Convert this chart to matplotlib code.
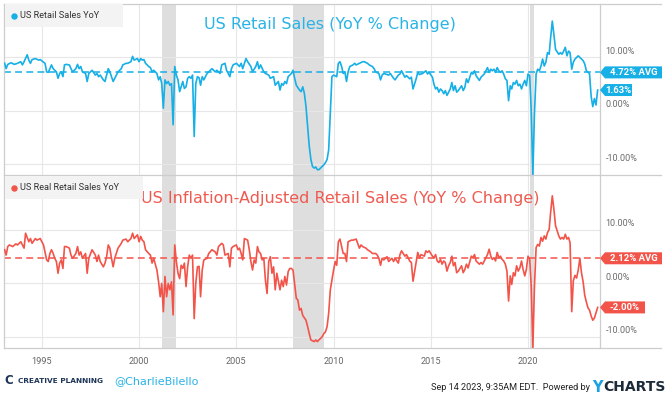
import numpy as np
import pandas as pd
import matplotlib
matplotlib.use("Agg")
import matplotlib.pyplot as plt
import matplotlib.transforms as mtransforms
from matplotlib.patches import Polygon, Rectangle
from matplotlib.lines import Line2D

plt.rcParams["font.family"] = ["Roboto", "DejaVu Sans"]

# ---------------- data (axis units in %) ----------------
rs_dates = """1993-02 1993-03 1993-04 1993-06 1993-08 1993-10 1993-12 1994-01 1994-02 1994-04
1994-05 1994-06 1994-07 1994-09 1994-11 1994-12 1995-02 1995-03 1995-04 1995-05
1995-06 1995-07 1995-08 1995-10 1995-11 1995-12 1996-01 1996-02 1996-03 1996-04
1996-06 1996-07 1996-08 1996-10 1996-11 1996-12 1997-01 1997-02 1997-04 1997-05
1997-06 1997-08 1997-10 1997-11 1997-12 1998-01 1998-03 1998-04 1998-05 1998-06
1998-07 1998-08 1998-09 1998-10 1998-12 1999-02 1999-03 1999-05 1999-06 1999-08
1999-09 1999-10 1999-12 2000-01 2000-02 2000-03 2000-04 2000-05 2000-07 2000-08
2000-09 2000-10 2000-12 2001-01 2001-02 2001-03 2001-04 2001-05 2001-06 2001-07
2001-08 2001-09 2001-10 2001-11 2001-12 2002-01 2002-02 2002-03 2002-04 2002-05
2002-06 2002-07 2002-08 2002-09 2002-10 2002-11 2002-12 2003-01 2003-02 2003-03
2003-04 2003-05 2003-07 2003-08 2003-10 2003-12 2004-01 2004-03 2004-04 2004-06
2004-07 2004-09 2004-10 2004-11 2005-01 2005-02 2005-03 2005-04 2005-05 2005-07
2005-08 2005-10 2005-11 2006-01 2006-02 2006-03 2006-04 2006-06 2006-07 2006-09
2006-10 2006-12 2007-01 2007-03 2007-04 2007-05 2007-06 2007-07 2007-08 2007-09
2007-11 2007-12 2008-01 2008-02 2008-04 2008-05 2008-06 2008-07 2008-08 2008-09
2008-10 2008-11 2008-12 2009-01 2009-02 2009-03 2009-04 2009-05 2009-06 2009-07
2009-08 2009-09 2009-10 2009-11 2009-12 2010-01 2010-03 2010-04 2010-05 2010-06
2010-07 2010-08 2010-09 2010-10 2010-11 2011-01 2011-02 2011-03 2011-05 2011-07
2011-08 2011-10 2011-11 2012-01 2012-02 2012-03 2012-05 2012-06 2012-07 2012-08
2012-11 2012-12 2013-02 2013-03 2013-05 2013-06 2013-07 2013-09 2013-10 2013-12
2014-01 2014-02 2014-04 2014-05 2014-06 2014-08 2014-10 2014-11 2014-12 2015-02
2015-03 2015-04 2015-05 2015-06 2015-07 2015-08 2015-09 2015-10 2015-11 2015-12
2016-01 2016-02 2016-03 2016-04 2016-05 2016-06 2016-08 2016-09 2016-10 2016-11
2016-12 2017-02 2017-03 2017-04 2017-05 2017-07 2017-08 2017-09 2017-10 2017-12
2018-01 2018-02 2018-03 2018-04 2018-05 2018-06 2018-07 2018-08 2018-09 2018-10
2018-11 2018-12 2019-01 2019-02 2019-03 2019-04 2019-05 2019-06 2019-07 2019-08
2019-09 2019-10 2019-11 2019-12 2020-01 2020-02 2020-03 2020-04 2020-05 2020-06
2020-07 2020-08 2020-09 2020-10 2020-11 2020-12 2021-01 2021-02 2021-03 2021-04
2021-05 2021-06 2021-08 2021-09 2021-10 2021-11 2021-12 2022-01 2022-02 2022-03
2022-04 2022-05 2022-06 2022-07 2022-08 2022-09 2022-11 2022-12 2023-01 2023-02
2023-03 2023-04 2023-05 2023-06 2023-07 2023-08""".split()

rs_values = [8.9, 7.9, 8.7, 9.0, 8.7, 8.9, 9.2, 8.6, 9.2, 10.5,
             9.5, 8.9, 9.6, 9.8, 9.5, 9.6, 9.1, 8.9, 7.3, 7.2,
             7.9, 8.6, 7.9, 7.3, 6.1, 7.0, 7.3, 6.4, 8.6, 8.7,
             8.6, 7.9, 7.3, 7.9, 8.7, 7.9, 8.3, 7.3, 7.0, 5.5,
             7.0, 7.6, 6.7, 7.0, 6.4, 6.7, 5.8, 5.5, 6.7, 7.9,
             7.3, 6.4, 5.5, 6.1, 7.3, 7.9, 8.6, 8.9, 8.9, 9.2,
             10.2, 9.5, 9.8, 9.2, 9.8, 9.5, 9.6, 8.9, 8.3, 8.1,
             7.3, 7.6, 7.0, 5.8, 6.4, 5.1, 0.5, 5.8, 5.1, 5.5,
             4.8, 5.1, -2.6, 8.3, 6.7, 5.8, 3.6, 4.5, 5.5, 4.2,
             4.5, 6.1, 6.4, 6.1, 6.7, -4.8, 5.1, 6.4, 6.2, 4.8,
             6.4, 5.8, 7.0, 7.3, 7.9, 7.3, 7.6, 7.0, 8.6, 8.9,
             7.6, 6.4, 7.9, 8.6, 8.9, 8.6, 8.3, 8.9, 7.9, 9.8,
             9.2, 8.3, 7.3, 8.3, 9.2, 7.9, 8.6, 7.3, 7.0, 6.7,
             6.1, 6.4, 4.8, 5.5, 3.9, 5.1, 4.8, 5.5, 5.1, 6.4,
             7.0, 7.6, 6.1, 4.8, 3.9, 3.6, 4.5, 3.3, 0.8, -2.9,
             -6.6, -9.1, -10.4, -10.7, -10.5, -11.0, -11.0, -10.7, -10.4, -10.1,
             -9.7, -9.1, -7.3, -0.4, 6.4, 6.7, 6.4, 8.9, 9.2, 8.3,
             7.0, 7.3, 5.5, 7.3, 8.3, 8.6, 8.9, 8.6, 8.9, 9.2,
             9.2, 8.9, 8.6, 8.3, 7.9, 7.3, 7.0, 5.8, 6.7, 7.0,
             6.7, 7.0, 6.1, 5.8, 6.7, 6.9, 7.5, 6.3, 6.6, 6.0,
             6.3, 4.1, 6.0, 7.2, 6.8, 7.0, 7.5, 6.9, 7.2, 6.3,
             5.0, 4.1, 4.4, 3.5, 4.1, 3.8, 3.2, 3.8, 2.9, 3.5,
             4.1, 5.3, 3.8, 4.7, 3.5, 3.8, 4.7, 3.8, 4.4, 6.0,
             5.3, 7.2, 6.9, 7.5, 6.6, 5.7, 6.3, 6.6, 6.9, 8.1,
             7.2, 7.8, 7.5, 7.8, 7.2, 8.1, 7.5, 7.2, 7.5, 6.9,
             6.0, 5.7, 1.9, 4.7, 4.1, 5.3, 5.0, 5.7, 4.7, 5.0,
             4.1, 5.0, 5.7, 4.7, 6.9, 6.6, 0.1, -12.0, -0.5, 6.9,
             7.8, 7.5, 8.4, 9.7, 8.4, 9.1, 10.9, 10.6, 13.7, 16.8,
             14.3, 11.5, 10.6, 10.9, 10.6, 11.2, 11.9, 10.3, 11.2, 10.9,
             7.8, 9.1, 9.7, 10.0, 10.3, 10.0, 9.4, 8.8, 7.5, 7.2,
             7.0, 2.7, 0.8, 2.3, 1.1, 3.9]

rrs_dates = """1993-02 1993-03 1993-04 1993-05 1993-07 1993-09 1993-10 1993-12 1994-01 1994-02
1994-03 1994-05 1994-06 1994-07 1994-09 1994-10 1994-12 1995-01 1995-02 1995-04
1995-05 1995-06 1995-07 1995-08 1995-09 1995-10 1995-11 1995-12 1996-01 1996-02
1996-03 1996-04 1996-06 1996-07 1996-08 1996-10 1996-11 1996-12 1997-01 1997-02
1997-04 1997-05 1997-06 1997-08 1997-10 1997-11 1997-12 1998-01 1998-03 1998-04
1998-05 1998-06 1998-07 1998-08 1998-09 1998-10 1998-12 1999-02 1999-03 1999-05
1999-06 1999-08 1999-09 1999-10 1999-12 2000-01 2000-02 2000-03 2000-04 2000-05
2000-07 2000-08 2000-09 2000-10 2000-12 2001-01 2001-02 2001-03 2001-04 2001-05
2001-06 2001-07 2001-08 2001-09 2001-10 2001-11 2001-12 2002-01 2002-02 2002-03
2002-04 2002-05 2002-06 2002-07 2002-08 2002-09 2002-10 2002-11 2002-12 2003-01
2003-02 2003-03 2003-04 2003-05 2003-07 2003-08 2003-10 2003-12 2004-01 2004-02
2004-04 2004-05 2004-06 2004-08 2004-09 2004-10 2004-11 2005-01 2005-02 2005-03
2005-04 2005-05 2005-06 2005-08 2005-09 2005-10 2005-11 2005-12 2006-01 2006-02
2006-03 2006-04 2006-05 2006-06 2006-07 2006-08 2006-09 2006-10 2006-11 2006-12
2007-01 2007-02 2007-04 2007-05 2007-06 2007-07 2007-08 2007-09 2007-10 2007-11
2007-12 2008-02 2008-03 2008-04 2008-05 2008-06 2008-08 2008-09 2008-10 2008-11
2009-01 2009-02 2009-03 2009-04 2009-06 2009-07 2009-08 2009-09 2009-10 2009-11
2010-01 2010-02 2010-03 2010-04 2010-05 2010-06 2010-07 2010-08 2010-09 2010-10
2010-12 2011-01 2011-03 2011-05 2011-06 2011-07 2011-09 2011-10 2011-12 2012-01
2012-03 2012-04 2012-05 2012-06 2012-07 2012-08 2012-10 2012-11 2013-01 2013-02
2013-03 2013-05 2013-06 2013-07 2013-09 2013-10 2013-12 2014-01 2014-02 2014-04
2014-05 2014-06 2014-07 2014-09 2014-10 2014-11 2014-12 2015-02 2015-03 2015-04
2015-05 2015-06 2015-07 2015-08 2015-09 2015-10 2015-11 2015-12 2016-01 2016-02
2016-03 2016-04 2016-05 2016-06 2016-08 2016-09 2016-10 2016-11 2016-12 2017-02
2017-03 2017-04 2017-05 2017-07 2017-08 2017-09 2017-10 2017-12 2018-01 2018-02
2018-03 2018-04 2018-05 2018-06 2018-07 2018-08 2018-09 2018-10 2018-11 2018-12
2019-01 2019-02 2019-03 2019-04 2019-05 2019-06 2019-07 2019-08 2019-09 2019-10
2019-11 2019-12 2020-01 2020-02 2020-03 2020-04 2020-05 2020-06 2020-07 2020-08
2020-09 2020-10 2020-11 2020-12 2021-01 2021-02 2021-03 2021-04 2021-05 2021-06
2021-08 2021-09 2021-10 2021-11 2021-12 2022-01 2022-02 2022-03 2022-04 2022-05
2022-06 2022-07 2022-08 2022-09 2022-10 2022-11 2022-12 2023-01 2023-02 2023-03
2023-04 2023-05 2023-06 2023-07 2023-08""".split()

rrs_values = [6.3, 5.3, 6.9, 7.2, 6.9, 7.4, 7.2, 7.8, 7.2, 6.6,
              9.4, 7.8, 8.4, 7.5, 8.4, 8.1, 8.4, 7.8, 7.2, 4.4,
              4.1, 5.6, 6.3, 5.6, 4.7, 4.1, 1.9, 3.8, 4.4, 2.8,
              6.9, 6.9, 6.6, 5.3, 4.7, 5.6, 6.9, 5.3, 5.9, 4.7,
              5.6, 1.9, 4.7, 6.3, 5.3, 4.1, 5.3, 4.1, 3.1, 3.8,
              5.0, 7.2, 6.6, 4.7, 3.1, 4.7, 6.6, 7.5, 8.1, 8.3,
              7.8, 8.4, 9.4, 8.4, 9.1, 7.8, 8.8, 8.1, 7.8, 6.3,
              5.6, 5.3, 3.8, 4.7, 2.5, 0.3, -2.5, 0.0, -5.3, 1.3,
              -2.5, 0.0, -1.2, 0.3, -5.9, 7.2, 4.1, 1.9, 0.9, 3.4,
              2.8, 3.8, -0.6, 3.1, 5.3, 4.7, 5.3, -6.6, 0.0, 3.1,
              3.2, -2.5, 2.5, 4.4, 4.7, 5.6, 6.3, 5.9, 5.3, 6.9,
              7.5, 7.2, 5.3, 5.6, 3.1, 6.6, 6.9, 7.2, 6.3, 6.6,
              5.6, 4.4, 8.4, 8.1, 6.3, 4.1, 2.5, 4.4, 3.8, 6.9,
              5.9, 5.6, 4.4, 4.7, 0.6, -1.9, 4.1, 5.0, 1.9, 3.1,
              -1.2, 1.9, -1.2, 0.6, -0.6, 1.3, -0.3, 2.2, 2.8, 2.8,
              2.5, -2.8, -3.1, -5.0, -4.7, -6.0, -6.9, -8.1, -9.4, -10.6,
              -10.9, -10.6, -10.9, -10.6, -10.0, -9.4, -9.1, -8.1, -5.6, -1.2,
              2.5, 4.1, 3.4, 7.8, 8.3, 6.9, 5.6, 5.6, 4.1, 7.8,
              8.1, 8.1, 8.3, 6.6, 7.2, 6.9, 6.6, 6.3, 5.9, 5.6,
              5.6, 5.3, 4.7, 3.4, 4.7, 4.4, 5.0, 4.1, 4.7, 4.1,
              4.7, 3.8, 5.4, 6.1, 5.1, 5.4, 4.2, 3.9, 0.4, 3.9,
              5.8, 4.8, 5.4, 5.1, 6.1, 5.8, 6.1, 5.1, 4.8, 5.4,
              4.2, 3.9, 4.5, 3.6, 4.2, 3.9, 2.3, 3.3, 3.9, 5.1,
              3.3, 3.9, 2.0, 2.3, 3.3, 2.0, 2.6, 3.6, 2.9, 5.1,
              4.8, 5.4, 4.2, 3.6, 3.9, 3.6, 4.2, 5.4, 6.4, 5.1,
              4.5, 4.8, 4.2, 5.8, 4.8, 5.1, 4.5, 4.2, 3.6, 2.3,
              -3.3, 1.4, -0.2, 2.0, 1.4, 3.3, 2.3, 2.9, 4.2, 2.6,
              1.4, 2.6, 5.1, 4.6, -0.5, -12.1, -0.5, 6.7, 7.3, 7.0,
              8.6, 7.9, 8.9, 8.3, 9.5, 10.1, 13.3, 16.4, 13.9, 10.8,
              8.9, 8.3, 8.6, 8.3, 9.2, 8.3, 8.6, 7.6, -5.3, 0.5,
              1.5, 1.0, 2.5, 4.7, 2.0, 0.3, -2.2, -3.5, -4.6, -5.0,
              -6.1, -6.9, -6.5, -5.5, -4.5]

rs_avg_level = 7.2
rrs_avg_level = 4.7
rs_avg_text = "4.72% AVG"
rrs_avg_text = "2.12% AVG"
rs_last_text = "1.63%"
rrs_last_text = "-2.00%"

recessions = [("2001-03-01", "2001-11-30"),
              ("2007-12-01", "2009-06-30"),
              ("2020-02-01", "2020-04-30")]
year_ticks = [1995, 2000, 2005, 2010, 2015, 2020]
y_ticks = [-10, 0, 10]
y_tick_labels = ["-10.00%", "0.00%", "10.00%"]

# ---------------- style ----------------
BLUE = "#16afe6"
RED = "#f2544a"
BORDER = "#cdcdcd"
GRID = "#e7e7e7"
BAND = "#dedede"

W, H = 670, 397
fig = plt.figure(figsize=(W / 100, H / 100), dpi=100)
fig.patch.set_facecolor("white")


def fx(px):
    return px / W


def fy(py):
    return 1 - py / H


ax1 = fig.add_axes([fx(4), fy(175), fx(600) - fx(4), fy(4) - fy(175)])
ax2 = fig.add_axes([fx(4), fy(348), fx(600) - fx(4), fy(175) - fy(348)])

x_lo = pd.Timestamp("1993-01-20")
x_hi = pd.Timestamp("2023-09-14")

series = [
    (ax1, rs_dates, rs_values, BLUE, (-12.0, 20.0), rs_avg_level),
    (ax2, rrs_dates, rrs_values, RED, (-12.1, 20.3), rrs_avg_level),
]

for ax, d, v, col, ylim, avg in series:
    dates = pd.to_datetime(d)
    ax.set_xlim(x_lo, x_hi)
    ax.set_ylim(*ylim)
    for s, e in recessions:
        ax.axvspan(pd.Timestamp(s), pd.Timestamp(e), color=BAND, lw=0, zorder=0.5)
    ax.set_yticks(y_ticks)
    ax.set_xticks([pd.Timestamp(f"{y}-01-01") for y in year_ticks])
    ax.grid(True, color=GRID, lw=0.8, zorder=0)
    ax.set_axisbelow(True)
    ax.plot(dates, v, color=col, lw=1.2, zorder=3, solid_joinstyle="round")
    ax.axhline(avg, color=col, lw=1.1, ls=(0, (4.5, 2.8)), zorder=2.5)
    for sp in ["top", "bottom"]:
        ax.spines[sp].set_visible(False)
    for sp in ["left", "right"]:
        ax.spines[sp].set_color(BORDER)
        ax.spines[sp].set_linewidth(0.9)
    ax.tick_params(axis="y", left=False, right=False, labelleft=False, labelright=False)
    ax.tick_params(axis="x", bottom=False, labelbottom=False)
    ax.set_facecolor("none")
    ytr = ax.get_yaxis_transform()
    for t, lab in zip(y_ticks, y_tick_labels):
        ax.annotate(lab, xy=(1.0, t), xycoords=ytr, xytext=(4.0, 1.2),
                    textcoords="offset points", ha="left", va="bottom",
                    fontsize=6.5, color="#6b6b6b", annotation_clip=False)

ax2.tick_params(axis="x", bottom=False, labelbottom=True, pad=2.8,
                labelsize=6.6, labelcolor="#666666")
ax2.set_xticklabels([str(y) for y in year_ticks])

# figure border lines extending under the right label column
for py in (4, 175, 348):
    fig.add_artist(Line2D([fx(4), fx(661)], [fy(py), fy(py)], color=BORDER,
                          lw=0.9, transform=fig.transFigure))

# legend boxes
for (x1, y1, y2), label, col in [((123, 4, 27), "US Retail Sales YoY", BLUE),
                                 ((143, 176, 199), "US Real Retail Sales YoY", RED)]:
    fig.add_artist(Rectangle((fx(4.5), fy(y2)), fx(x1) - fx(4.5), fy(y1) - fy(y2),
                             transform=fig.transFigure, facecolor="#f3f3f3",
                             edgecolor="none", zorder=5))
    yc = (y1 + y2) / 2 + 0.5
    fig.add_artist(Line2D([fx(14)], [fy(yc)], marker="o", ms=3.6, color=col,
                          transform=fig.transFigure, zorder=6))
    fig.text(fx(20.5), fy(yc), label, fontsize=6.6, color="#333333",
             va="center", ha="left", zorder=6)

# titles
fig.text(fx(330), fy(24), "US Retail Sales (YoY % Change)", color="#2ab3e6",
         fontsize=11.5, ha="center", va="center", family=["DejaVu Sans"])
fig.text(fx(340), fy(198), "US Inflation-Adjusted Retail Sales (YoY % Change)",
         color="#ef5a50", fontsize=11.5, ha="center", va="center",
         family=["DejaVu Sans"])

# value flags on the right
ident = mtransforms.IdentityTransform()


def flag(ax, yval, text, color, width_px):
    x0 = ax.transAxes.transform((1.0, 0.0))[0]
    yp = ax.transData.transform((0.0, yval))[1]
    h = 12.0
    verts = [(x0, yp), (x0 + 5, yp + h / 2), (x0 + width_px, yp + h / 2),
             (x0 + width_px, yp - h / 2), (x0 + 5, yp - h / 2)]
    fig.add_artist(Polygon(verts, closed=True, transform=ident, facecolor=color,
                           edgecolor="none", zorder=7))
    fig.text(x0 + 5 + (width_px - 5) / 2, yp, text, transform=ident, color="white",
             fontsize=6.8, fontweight="bold", ha="center", va="center", zorder=8)


flag(ax1, rs_avg_level, rs_avg_text, BLUE, 62)
flag(ax1, rs_values[-1], rs_last_text, BLUE, 32)
flag(ax2, rrs_avg_level, rrs_avg_text, RED, 62)
flag(ax2, rrs_values[-1], rrs_last_text, RED, 45)

# footer
fig.text(fx(4.5), fy(381), "C", fontsize=8.5, fontweight="bold", color="#1d3557",
         ha="left", va="center", family=["DejaVu Sans"])
fig.text(fx(18), fy(381), "CREATIVE PLANNING", fontsize=5.3, fontweight="bold",
         color="#1d3557", ha="left", va="center", family=["DejaVu Sans"])
fig.text(fx(114), fy(381), "@CharlieBilello", fontsize=8.0, color="#2ab3e6",
         ha="left", va="center", family=["DejaVu Sans"])
fig.text(fx(590), fy(388), "Sep 14 2023, 9:35AM EDT.  Powered by", fontsize=6.6,
         color="#222222", ha="right", va="center",
         family=["Liberation Sans Narrow", "Roboto"])
fig.text(fx(592), fy(387), "Y", fontsize=10.5, fontweight="bold", color="#1ba1e2",
         ha="left", va="center", family=["DejaVu Sans"])
fig.text(fx(603), fy(387), "CHARTS", fontsize=10.0, fontweight="bold",
         color="#1c2b39", ha="left", va="center", family=["DejaVu Sans"])

fig.savefig("out.png", dpi=100)
